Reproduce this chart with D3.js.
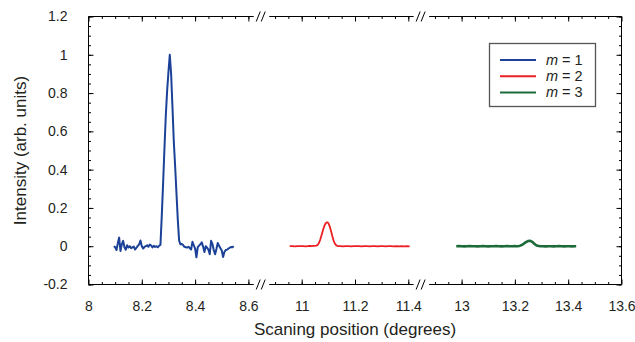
<!DOCTYPE html>
<html>
<head>
<meta charset="utf-8">
<script src="https://cdn.jsdelivr.net/npm/d3@7"></script>
<style>
  html, body { margin: 0; padding: 0; background: #fff; }
  svg { display: block; }
  text { font-family: "Liberation Sans", Arial, sans-serif; fill: #231f20; }
</style>
</head>
<body>
<svg id="chart" width="635" height="342"></svg>
<script>
// ---------------- DATA ----------------
const seriesNames = ["m = 1", "m = 2", "m = 3"];

// m = 1 (blue)
const blueX = [8.095,8.100,8.105,8.110,8.115,8.120,8.125,8.130,8.135,8.140,
  8.145,8.150,8.155,8.160,8.165,8.170,8.175,8.180,8.185,8.190,
  8.195,8.200,8.205,8.210,8.215,8.220,8.225,8.230,8.235,8.240,
  8.245,8.250,8.255,8.260,8.265,8.270,8.275,8.280,8.285,8.290,
  8.295,8.300,8.305,8.310,8.315,8.320,8.325,8.330,8.335,8.340,
  8.345,8.350,8.355,8.360,8.365,8.370,8.375,8.380,8.385,8.390,
  8.395,8.400,8.405,8.410,8.415,8.420,8.425,8.430,8.435,8.440,
  8.445,8.450,8.455,8.460,8.465,8.470,8.475,8.480,8.485,8.490,
  8.495,8.500,8.505,8.510,8.515,8.520,8.525,8.530,8.535,8.540,8.545];
const blueY = [0.000,-0.005,-0.020,0.015,0.045,-0.025,0.010,0.028,-0.005,-0.018,
  0.005,-0.007,0.000,-0.010,-0.006,-0.002,-0.017,-0.008,0.002,0.010,
  0.030,0.000,-0.012,-0.004,0.000,0.005,-0.003,0.009,0.004,-0.006,
  0.002,-0.004,0.000,-0.005,0.002,0.008,0.160,0.330,0.510,0.680,
  0.810,0.910,1.000,0.900,0.730,0.550,0.420,0.280,0.140,0.030,
  0.010,0.012,0.006,-0.003,-0.005,-0.007,-0.003,-0.010,-0.017,0.023,
  0.005,-0.012,-0.058,-0.005,0.003,0.010,0.020,-0.002,-0.030,0.000,
  -0.008,-0.018,-0.042,0.028,0.012,-0.020,-0.042,-0.015,0.017,0.002,
  -0.010,-0.022,-0.056,-0.030,-0.020,-0.018,-0.012,-0.008,-0.004,-0.006,0.000];

// m = 2 (red)
const redX = [10.955,10.965,10.975,10.985,10.995,11.005,11.015,11.025,11.035,11.045,11.055,
  11.060,11.065,11.070,11.075,11.080,11.085,11.090,11.095,11.100,11.105,11.110,11.115,11.120,11.125,11.130,11.135,
  11.145,11.155,11.165,11.175,11.185,11.195,11.205,11.215,11.225,11.235,11.245,11.255,11.265,11.275,
  11.285,11.295,11.305,11.315,11.325,11.335,11.345,11.355,11.365,11.375,11.385,11.395,11.405];
const redY = [0.000,0.001,-0.001,0.001,0.000,0.001,-0.001,0.001,0.001,0.002,0.003,
  0.007,0.018,0.036,0.060,0.085,0.106,0.120,0.125,0.121,0.104,0.080,0.052,0.028,0.012,0.004,0.001,
  0.000,-0.001,0.001,0.000,-0.001,0.001,0.000,0.000,-0.001,0.001,0.000,-0.001,0.000,0.001,
  -0.001,0.000,0.000,-0.001,0.000,0.001,-0.001,0.000,-0.001,0.000,-0.001,0.000,-0.001];

// m = 3 (green)
const greenX = [12.980,12.990,13.000,13.010,13.020,13.030,13.040,13.050,13.060,13.070,13.080,13.090,
  13.100,13.110,13.120,13.130,13.140,13.150,13.160,13.170,13.180,13.190,13.200,
  13.205,13.210,13.215,13.220,13.225,13.230,13.235,13.240,13.245,13.250,13.255,13.260,13.265,13.270,
  13.275,13.280,13.285,13.290,13.295,
  13.305,13.315,13.325,13.335,13.345,13.355,13.365,13.375,13.385,13.395,13.405,13.415,13.425,13.430];
const greenY = [0.000,0.001,0.000,-0.001,0.000,0.001,0.000,0.000,-0.001,0.000,0.001,0.000,
  -0.001,0.000,0.000,0.001,0.000,-0.001,0.000,0.001,0.000,0.000,0.001,
  0.000,0.000,0.001,0.003,0.006,0.010,0.015,0.020,0.024,0.027,0.028,0.027,0.023,0.017,
  0.010,0.005,0.002,0.001,0.000,
  0.000,-0.001,0.000,0.000,-0.001,0.000,0.001,0.000,-0.001,0.000,0.000,-0.001,0.000,0.000];

// axis tick labels
const xTickLabels = [8, 8.2, 8.4, 8.6, 11, 11.2, 11.4, 13, 13.2, 13.4, 13.6];
const yTickLabels = [-0.2, 0, 0.2, 0.4, 0.6, 0.8, 1, 1.2];
// broken-axis segments
const xSegments = [[8, 8.65], [10.85, 11.45], [12.85, 13.6]];
const xTitle = "Scaning position (degrees)";
const yTitle = "Intensity (arb. units)";

// ---------------- LAYOUT ----------------
const L = 88.5, R = 621.5, T = 16.5, B = 284.5;
const colors = ["#1b4298", "#ec2024", "#1d6a3b"];
const widths = [2, 1.8, 2.6];

const svg = d3.select("#chart");

// piecewise x-scale across the broken axis
const segLen = xSegments.map(s => s[1] - s[0]);
const totLen = d3.sum(segLen);
const pxPerUnit = (R - L) / totLen;
const xDomain = [], xRange = [];
let cur = L;
xSegments.forEach((s, i) => {
  xDomain.push(s[0], s[1]);
  xRange.push(cur, cur + segLen[i] * pxPerUnit);
  cur += segLen[i] * pxPerUnit;
});
const x = d3.scaleLinear().domain(xDomain).range(xRange);
const y = d3.scaleLinear().domain([-0.2, 1.2]).range([B, T]);

// minor ticks
const xMinor = [];
xSegments.forEach(s => {
  d3.range(Math.round(s[0] * 20) + 1, Math.round(s[1] * 20) + 1).forEach(k => {
    const v = k / 20;
    if (v > s[0] + 1e-9 && v < s[1] - 1e-9) xMinor.push(v);
  });
});
const yMinor = d3.range(-4, 25).map(k => k / 20);

function styleAxis(g) {
  g.select(".domain").remove();
  g.selectAll(".tick line").attr("stroke", "#000").attr("stroke-width", 1);
}
const labelFont = g => g.selectAll("text").attr("font-size", 14).attr("fill", "#231f20")
  .style("font-family", '"Liberation Sans", Arial, sans-serif');

// bottom axis
svg.append("g").attr("transform", `translate(0,${B})`)
  .call(d3.axisBottom(x).tickValues(xMinor).tickSize(-2.5).tickFormat(""))
  .call(styleAxis);
svg.append("g").attr("transform", `translate(0,${B})`)
  .call(d3.axisBottom(x).tickValues(xTickLabels).tickSize(-5).tickPadding(17).tickFormat(d => String(d)))
  .call(styleAxis).call(labelFont);
// top axis
svg.append("g").attr("transform", `translate(0,${T})`)
  .call(d3.axisTop(x).tickValues(xMinor).tickSize(-2.5).tickFormat(""))
  .call(styleAxis);
svg.append("g").attr("transform", `translate(0,${T})`)
  .call(d3.axisTop(x).tickValues(xTickLabels).tickSize(-5).tickFormat(""))
  .call(styleAxis);
// left axis
svg.append("g").attr("transform", `translate(${L},0)`)
  .call(d3.axisLeft(y).tickValues(yMinor).tickSize(-2.5).tickFormat(""))
  .call(styleAxis);
svg.append("g").attr("transform", `translate(${L},0)`)
  .call(d3.axisLeft(y).tickValues(yTickLabels).tickSize(-5).tickPadding(21).tickFormat(d => String(d)))
  .call(styleAxis).call(labelFont);
// right axis
svg.append("g").attr("transform", `translate(${R},0)`)
  .call(d3.axisRight(y).tickValues(yMinor).tickSize(-2.5).tickFormat(""))
  .call(styleAxis);
svg.append("g").attr("transform", `translate(${R},0)`)
  .call(d3.axisRight(y).tickValues(yTickLabels).tickSize(-5).tickFormat(""))
  .call(styleAxis);

// frame with breaks
const frame = svg.append("g").attr("stroke", "#000").attr("stroke-width", 1).attr("fill", "none");
frame.append("line").attr("x1", L).attr("x2", L).attr("y1", T).attr("y2", B);
frame.append("line").attr("x1", R).attr("x2", R).attr("y1", T).attr("y2", B);
const breakPx = xRange.filter((v, i) => i > 0 && i < xRange.length - 1 && i % 2 === 1);
const gapL = 8, gapR = 7.5;
[T, B].forEach(yy => {
  const starts = [L].concat(breakPx.map(b => b + gapR));
  const ends = breakPx.map(b => b - gapL).concat([R]);
  starts.forEach((s, i) => {
    frame.append("line").attr("x1", s).attr("x2", ends[i]).attr("y1", yy).attr("y2", yy);
  });
  breakPx.forEach(b => {
    [-5.5, -0.5].forEach(off => {
      frame.append("line")
        .attr("x1", b + off).attr("y1", yy + 5)
        .attr("x2", b + off + 4).attr("y2", yy - 5);
    });
  });
});

// series
const series = [
  {x: blueX, y: blueY},
  {x: redX, y: redY},
  {x: greenX, y: greenY}
];
const line = d3.line().x(d => x(d[0])).y(d => y(d[1]));
series.forEach((s, i) => {
  svg.append("path")
    .datum(s.x.map((v, j) => [v, s.y[j]]))
    .attr("fill", "none")
    .attr("stroke", colors[i])
    .attr("stroke-width", widths[i])
    .attr("stroke-linejoin", "round")
    .attr("d", line);
});

// legend
const lg = svg.append("g");
lg.append("rect").attr("x", 489.5).attr("y", 43.5).attr("width", 106).attr("height", 63)
  .attr("fill", "#fff").attr("stroke", "#555").attr("stroke-width", 1.3);
seriesNames.forEach((name, i) => {
  const yy = 60 + i * 16.2;
  lg.append("line").attr("x1", 500).attr("x2", 536).attr("y1", yy).attr("y2", yy)
    .attr("stroke", colors[i]).attr("stroke-width", 2);
  const t = lg.append("text").attr("x", 546).attr("y", yy + 5).attr("font-size", 14.5);
  const parts = name.split(" ");
  t.append("tspan").attr("font-style", "italic").text(parts[0]);
  t.append("tspan").text(" " + parts.slice(1).join(" "));
});

// axis titles
svg.append("text").attr("x", (L + R) / 2).attr("y", 335).attr("text-anchor", "middle")
  .attr("font-size", 17).text(xTitle);
svg.append("text").attr("transform", `translate(26,${(T + B) / 2}) rotate(-90)`)
  .attr("text-anchor", "middle").attr("font-size", 17).text(yTitle);
</script>
</body>
</html>
